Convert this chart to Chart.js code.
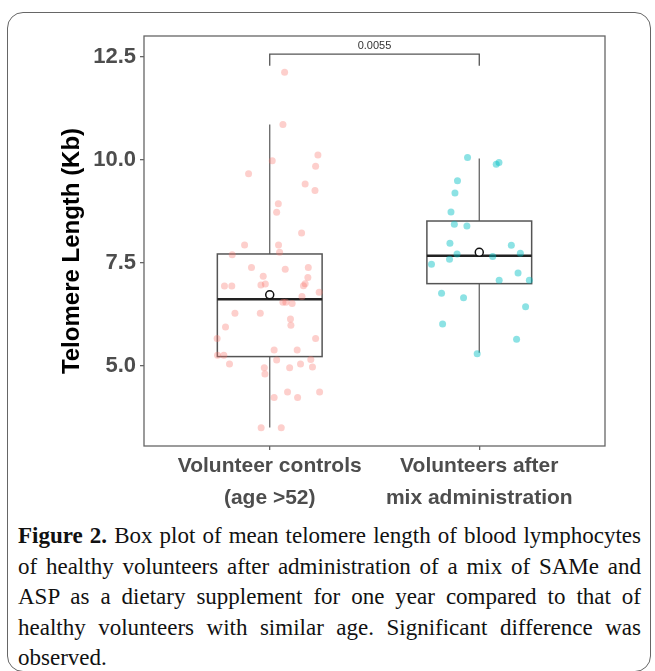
<!DOCTYPE html>
<html>
<head>
<meta charset="utf-8">
<script src="https://cdn.jsdelivr.net/npm/chart.js@4.4.0/dist/chart.umd.min.js"></script>
<style>
  body { margin: 0; background: #fff; }
  #frame {
    position: absolute; left: 7px; top: 12px; width: 644px; height: 660px;
    border: 1.5px solid #666; border-radius: 16px; box-sizing: border-box;
  }
  #wrap { position: absolute; left: 0; top: 0; width: 655px; height: 515px; }
  #caption {
    position: absolute; left: 18px; top: 521px; width: 623px;
    font-family: "Liberation Serif", "Times New Roman", serif;
    font-size: 23px; line-height: 30.5px; text-align: justify; color: #111;
  }
</style>
</head>
<body>
<div id="frame"></div>
<div id="wrap"><canvas id="boxChart" width="655" height="515"></canvas></div>
<div id="caption"><b>Figure 2.</b> Box plot of mean telomere length of blood lymphocytes of healthy volunteers after administration of a mix of SAMe and ASP as a dietary supplement for one year compared to that of healthy volunteers with similar age. Significant difference was observed.</div>

<script>
// 两组名称（x轴）
const groups = [['Volunteer controls', '(age >52)'], ['Volunteers after', 'mix administration']];

// y轴刻度
const yTicks = [5.0, 7.5, 10.0, 12.5];

// 箱线图统计量（从图上读的）
const q1 = [5.22, 6.99];
const medians = [6.61, 7.67];
const q3 = [7.71, 8.51];
const whiskerLow = [3.50, 5.31];
const whiskerHigh = [10.85, 10.03];
const means = [6.72, 7.75];

// 对照组散点（jitter 后的位置）
const ctrlX = [1.071, 1.063, 1.23, 1.012, 1.219, 0.899, 1.169, 1.216, 1.041, 1.033,
               1.152, 0.880, 1.042, 1.047, 0.821, 0.913, 1.074, 1.184, 0.969, 1.182,
               0.784, 0.819, 0.958, 0.979, 1.169, 1.161, 1.236, 1.154, 1.063, 1.077,
               1.107, 0.834, 0.955, 1.099, 1.101, 0.789, 0.749, 1.219, 1.021, 1.131,
               0.751, 0.781, 1.033, 0.808, 1.196, 1.147, 1.204, 0.974, 0.977, 1.095,
               1.021, 1.085, 1.133, 1.238, 0.959, 1.055];
const ctrlY = [12.12, 10.85, 10.11, 9.97, 9.84, 9.66, 9.41, 9.25, 8.93, 8.72,
               8.22, 7.93, 7.93, 7.75, 7.69, 7.38, 7.34, 7.38, 7.17, 7.14,
               6.93, 6.93, 6.96, 6.98, 6.99, 6.94, 6.78, 6.68, 6.54, 6.54,
               6.51, 6.27, 6.27, 6.13, 5.98, 5.94, 5.66, 5.66, 5.38, 5.38,
               5.25, 5.25, 5.14, 5.04, 5.15, 5.04, 4.97, 4.95, 4.80, 4.95,
               4.23, 4.36, 4.23, 4.36, 3.49, 3.49];

// 服用混合物组散点
const mixX = [1.944, 2.081, 2.094, 1.896, 1.884, 1.865, 1.881, 1.941, 1.860, 2.153,
              1.894, 2.196, 2.064, 1.858, 1.772, 2.185, 2.095, 2.239, 1.82, 1.925,
              2.221, 1.825, 2.178, 1.99];
const mixY = [10.05, 9.89, 9.93, 9.49, 9.19, 8.73, 8.43, 8.39, 7.97, 7.92,
              7.71, 7.73, 7.65, 7.58, 7.46, 7.25, 7.07, 7.07, 6.76, 6.65,
              6.43, 6.01, 5.64, 5.29];

// 显著性标注
const pLabel = '0.0055';
const bracketTop = 12.56;
const bracketLeg = 12.28;

const toPoints = (xs, ys) => xs.map((x, i) => ({ x: x, y: ys[i] }));

// 画面板边框、箱子、须线、显著性括号
const boxPlugin = {
    id: 'boxes',
    beforeDatasetsDraw(chart) {
        const { ctx, chartArea: a, scales: { x, y } } = chart;
        ctx.save();
        // panel border
        ctx.strokeStyle = '#666';
        ctx.lineWidth = 1.3;
        ctx.strokeRect(a.left, a.top, a.right - a.left, a.bottom - a.top);

        const half = 0.25;
        for (let i = 0; i < q1.length; i++) {
            const c = i + 1;
            const xl = x.getPixelForValue(c - half);
            const xr = x.getPixelForValue(c + half);
            const xc = x.getPixelForValue(c);
            // whiskers
            ctx.strokeStyle = '#666';
            ctx.lineWidth = 1.3;
            ctx.beginPath();
            ctx.moveTo(xc, y.getPixelForValue(q3[i]));
            ctx.lineTo(xc, y.getPixelForValue(whiskerHigh[i]));
            ctx.moveTo(xc, y.getPixelForValue(q1[i]));
            ctx.lineTo(xc, y.getPixelForValue(whiskerLow[i]));
            ctx.stroke();
            // box
            ctx.strokeStyle = '#555';
            ctx.lineWidth = 1.5;
            const yt = y.getPixelForValue(q3[i]);
            const yb = y.getPixelForValue(q1[i]);
            ctx.strokeRect(xl, yt, xr - xl, yb - yt);
            // median
            ctx.strokeStyle = '#222';
            ctx.lineWidth = 2.5;
            ctx.beginPath();
            const ym = y.getPixelForValue(medians[i]);
            ctx.moveTo(xl, ym);
            ctx.lineTo(xr, ym);
            ctx.stroke();
        }

        // significance bracket
        const x1 = x.getPixelForValue(1), x2 = x.getPixelForValue(2);
        const bt = y.getPixelForValue(bracketTop), bl = y.getPixelForValue(bracketLeg);
        ctx.strokeStyle = '#555';
        ctx.lineWidth = 1.3;
        ctx.beginPath();
        ctx.moveTo(x1, bl);
        ctx.lineTo(x1, bt);
        ctx.lineTo(x2, bt);
        ctx.lineTo(x2, bl);
        ctx.stroke();
        ctx.fillStyle = '#333';
        ctx.font = '11px "Liberation Sans", Arial, sans-serif';
        ctx.textAlign = 'center';
        ctx.textBaseline = 'bottom';
        ctx.fillText(pLabel, (x1 + x2) / 2, bt - 3);
        ctx.restore();
    }
};

const ctx = document.getElementById('boxChart');
const boxChart = new Chart(ctx, {
    type: 'scatter',
    data: {
        datasets: [
            {
                label: 'controls',
                data: toPoints(ctrlX, ctrlY),
                backgroundColor: 'rgba(248,118,109,0.35)',
                borderWidth: 0,
                pointRadius: 3.5
            },
            {
                label: 'mix',
                data: toPoints(mixX, mixY),
                backgroundColor: 'rgba(0,191,196,0.45)',
                borderWidth: 0,
                pointRadius: 3.5
            },
            {
                label: 'mean',
                data: means.map((m, i) => ({ x: i + 1, y: m })),
                backgroundColor: '#fff',
                borderColor: '#111',
                borderWidth: 1.5,
                pointRadius: 4
            }
        ]
    },
    options: {
        responsive: false,
        animation: false,
        layout: { padding: { left: 52, top: 36, right: 50, bottom: 0 } },
        plugins: { legend: { display: false }, tooltip: { enabled: false } },
        scales: {
            x: {
                type: 'linear',
                min: 0.4,
                max: 2.6,
                afterBuildTicks: (scale) => { scale.ticks = groups.map((g, i) => ({ value: i + 1 })); },
                afterFit: (scale) => { scale.height = 69; },
                grid: { drawOnChartArea: false, drawTicks: true, tickLength: 4, color: '#666', lineWidth: 1.3 },
                border: { display: false },
                ticks: {
                    padding: 0,
                    maxRotation: 0,
                    color: '#4d4d4d',
                    font: { family: '"Liberation Sans", Arial, sans-serif', size: 21, weight: 'bold', lineHeight: 1.52 },
                    callback: (v) => groups[Math.round(v) - 1]
                }
            },
            y: {
                min: 3.05,
                max: 13.0,
                afterBuildTicks: (scale) => { scale.ticks = yTicks.map(v => ({ value: v })); },
                afterFit: (scale) => { scale.width = 92; },
                grid: { drawOnChartArea: false, drawTicks: true, tickLength: 4, color: '#666', lineWidth: 1.3 },
                border: { display: false },
                title: {
                    display: true,
                    // 末尾空格让标题往下挪一点
                    text: 'Telomere Length (Kb)   ',
                    color: '#000',
                    padding: { top: 6, bottom: 0 },
                    font: { family: '"Liberation Sans", Arial, sans-serif', size: 24, weight: 'bold' }
                },
                ticks: {
                    padding: 4,
                    color: '#4d4d4d',
                    font: { family: '"Liberation Sans", Arial, sans-serif', size: 22, weight: 'bold' },
                    callback: (v) => v.toFixed(1)
                }
            }
        }
    },
    plugins: [boxPlugin]
});
</script>
</body>
</html>
